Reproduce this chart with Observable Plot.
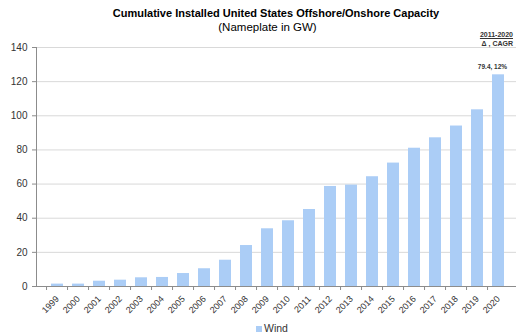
<!DOCTYPE html>
<html><head><meta charset="utf-8">
<script src="https://cdn.jsdelivr.net/npm/d3@7"></script>
<script src="https://cdn.jsdelivr.net/npm/@observablehq/plot@0.6"></script>
<style>
body{margin:0;background:#fff;}
#wrap{position:relative;width:516px;height:335px;overflow:hidden;font-family:"Liberation Sans",Arial,sans-serif;color:#000;}
.t{position:absolute;white-space:nowrap;line-height:1;}
#chart{position:absolute;left:0;top:0;}
</style></head><body>
<div id="wrap">
<div id="chart"></div>
<div class="t" id="title" style="left:276px;top:8px;transform:translateX(-50%);font-size:11px;font-weight:bold;">Cumulative Installed United States Offshore/Onshore Capacity</div>
<div class="t" id="subtitle" style="left:267.5px;top:21.5px;transform:translateX(-50%);font-size:11.5px;">(Nameplate in GW)</div>
<div class="t" style="right:3px;top:31px;font-size:7px;font-weight:bold;color:#333;text-decoration:underline;">2011-2020</div>
<div class="t" style="right:3px;top:40px;font-size:7px;font-weight:bold;color:#333;">Δ , CAGR</div>
<div class="t" style="left:256px;top:323px;font-size:10.5px;color:#333;"><span style="display:inline-block;width:6px;height:6px;background:#abcdf6;margin-right:2px;"></span>Wind</div>
</div>
<script>
const years = ["1999","2000","2001","2002","2003","2004","2005","2006","2007","2008","2009","2010","2011","2012","2013","2014","2015","2016","2017","2018","2019","2020"];
const wind = [1.4,1.4,3.1,3.7,5.1,5.3,7.6,10.4,15.4,24.0,33.8,38.5,45.1,58.6,59.4,64.3,72.3,81.0,87.1,94.0,103.5,124.0];
const yTicks = [0,20,40,60,80,100,120,140];
const lastLabel = ["79.4, 12%"];

const data = years.map((y, i) => ({year: y, value: wind[i]}));
const x0 = 36, x1 = 518.5, step = (x1 - x0) / years.length;
const chart = Plot.plot({
  width: 516, height: 335,
  marginTop: 47, marginBottom: 49, marginLeft: 36, marginRight: 0,
  style: {fontFamily: "Liberation Sans, Arial, sans-serif", background: "transparent", color: "#333"},
  x: {domain: years, range: [x0, x1], padding: 0.42, label: null},
  y: {domain: [0, 140], label: null},
  marks: [
    Plot.gridY(yTicks.filter(d => d > 0), {stroke: "#d9d9d9", strokeOpacity: 1}),
    Plot.barY(data, {x: "year", y: "value", fill: "#abcdf6"}),
    Plot.ruleY([0], {stroke: "#8c8c8c"}),
    Plot.frame({anchor: "left", stroke: "#8c8c8c"}),
    Plot.axisY(yTicks, {tickSize: 4, tickPadding: 5, fontSize: 10, stroke: "#8c8c8c", fill: "#333", label: null}),
    Plot.axisX(years, {tickSize: 4, dx: -step / 2, tickFormat: () => "", stroke: "#8c8c8c", label: null}),
    Plot.axisX(years, {tickSize: 0, tickRotate: -45, tickPadding: 11, fontSize: 9, fill: "#333", label: null}),
    Plot.text([data[data.length - 1]], {x: "year", y: "value", text: () => lastLabel[0], dy: -8, dx: -6, fontWeight: "bold", fontSize: 6.5, fill: "#333"})
  ]
});
document.getElementById("chart").appendChild(chart);
</script>
</body></html>
